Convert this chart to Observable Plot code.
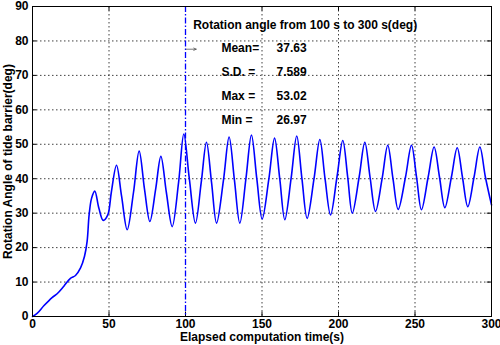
<!DOCTYPE html>
<html>
<head>
<meta charset="utf-8">
<script src="https://cdn.jsdelivr.net/npm/d3@7"></script>
<script src="https://cdn.jsdelivr.net/npm/@observablehq/plot@0.6"></script>
<style>
  html, body { margin: 0; padding: 0; background: #fff; }
  #chart svg { display: block; }
</style>
</head>
<body>
<div id="chart"></div>
<script>
// Elapsed time (s) and rotation angle (deg)
const time = [0, 3, 7.4, 12.8, 16.1, 20.5, 24.8, 28.1, 31.4, 34, 35.7, 37, 38.6, 40.7, 43.4, 46.2, 49.2,
  51.5, 54.9, 58.2, 61.9, 66, 69.7, 73.2, 76.7, 80.5, 83.9, 87.5, 91.3,
  95.5, 98.9, 102.5, 106.5, 110.3, 113.7, 117, 120.3, 124.8, 128.5, 132, 135.5,
  139.5, 143.1, 146.6, 150.1, 154.5, 158.2, 161.6, 164.9, 169, 172.7, 176.1, 179.5,
  184, 187.8, 191.2, 194.8, 199, 202.8, 206, 209, 213.5, 217.2, 220.6, 224.2,
  228.5, 232.2, 235.6, 239, 243.8, 247.7, 251, 254.2, 258.6, 262.5, 266, 269.5,
  273.8, 277.6, 281, 284.5, 288.6, 292.4, 296, 300];
const angle = [0, 0.9, 3.1, 5.5, 6.6, 8.8, 11.1, 11.9, 14.1, 17.5, 21.8, 29.5, 34.3, 36.4, 31.4, 27.9, 29.5,
  36, 43.9, 35, 25.2, 36, 48, 37, 27.6, 37, 46.5, 36, 26.1,
  39, 53, 40, 27.1, 39, 50.6, 39, 27.1, 39.5, 52.1, 39.5, 27.1,
  40, 52.7, 40, 28.3, 40, 51.8, 40, 28.1, 40, 52.4, 40, 28.5,
  40, 51.4, 40, 29.5, 40.5, 51.1, 40.5, 30, 40.5, 50.6, 40.5, 30.5,
  40, 49.7, 40, 31.1, 40.5, 49.7, 40.5, 31, 40.5, 49.2, 40.5, 31.6,
  40.5, 49, 40.5, 31.9, 40.5, 49.2, 40.5, 32.4];

const xTicks = [0, 50, 100, 150, 200, 250, 300];
const yTicks = [0, 10, 20, 30, 40, 50, 60, 70, 80, 90];
const markerTime = [100];

const xLabel = "Elapsed computation time(s)";
const yLabel = "Rotation Angle of tide barrier(deg)";
const statLabels = ["Mean=", "S.D. =", "Max =", "Min ="];
const statValues = ["37.63", "7.589", "53.02", "26.97"];
const statTitle = "Rotation angle from 100 s to 300 s(deg)";

const series = time.map((t, i) => ({t, a: angle[i]}));
const statRows = statLabels.map((l, i) => ({label: l, value: statValues[i], y: [78, 71, 64, 57][i]}));

const font = "Liberation Sans, Arial, sans-serif";

const chart = Plot.plot({
  width: 500,
  height: 345,
  marginLeft: 32,
  marginRight: 9,
  marginTop: 6,
  marginBottom: 29,
  style: {fontFamily: font, fontSize: "12px", fontWeight: "bold", color: "#000", background: "#fff", overflow: "visible"},
  x: {domain: [0, 300], ticks: xTicks, tickSize: 0, tickPadding: 3, label: null},
  y: {domain: [0, 90], ticks: yTicks, tickSize: 0, tickPadding: 4, label: null},
  marks: [
    Plot.ruleX(xTicks.filter(d => d > 0 && d < 300 && d !== 100), {stroke: "#000", strokeDasharray: "1.5,2.5", strokeWidth: 1, strokeOpacity: 0.75}),
    Plot.ruleY(yTicks.filter(d => d > 0 && d < 90), {stroke: "#000", strokeDasharray: "1.5,2.5", strokeWidth: 1, strokeOpacity: 0.75}),
    // inner tick marks
    Plot.ruleX(xTicks, {y1: 0, y2: 1.3, stroke: "#000"}),
    Plot.ruleX(xTicks, {y1: 88.7, y2: 90, stroke: "#000"}),
    Plot.ruleY(yTicks, {x1: 0, x2: 2.8, stroke: "#000"}),
    Plot.ruleY(yTicks, {x1: 297.2, x2: 300, stroke: "#000"}),
    Plot.ruleX(markerTime, {stroke: "#0000ff", strokeWidth: 1.3, strokeDasharray: "6,2,1.5,2"}),
    Plot.line(series, {x: "t", y: "a", stroke: "#0000ff", strokeWidth: 1.6, curve: "catmull-rom"}),
    Plot.frame({stroke: "#000", strokeWidth: 1}),
    Plot.text([xLabel], {frameAnchor: "bottom", dy: 24, text: d => d, fontSize: 12}),
    Plot.text([yLabel], {frameAnchor: "left", textAnchor: "middle", dx: -24, rotate: -90, text: d => d, fontSize: 12}),
    Plot.text([statTitle], {x: 105, y: 84.7, text: d => d, textAnchor: "start", fontSize: 12}),
    Plot.arrow([{x1: 100.4, x2: 107, y: 77.6}], {x1: "x1", x2: "x2", y1: "y", y2: "y", stroke: "#555", strokeWidth: 0.8, headLength: 5, headAngle: 50}),
    Plot.text(statRows, {x: 123.5, y: "y", text: "label", textAnchor: "start", fontSize: 12}),
    Plot.text(statRows, {x: 159.5, y: "y", text: "value", textAnchor: "start", fontSize: 12})
  ]
});
document.getElementById("chart").appendChild(chart);
</script>
</body>
</html>
